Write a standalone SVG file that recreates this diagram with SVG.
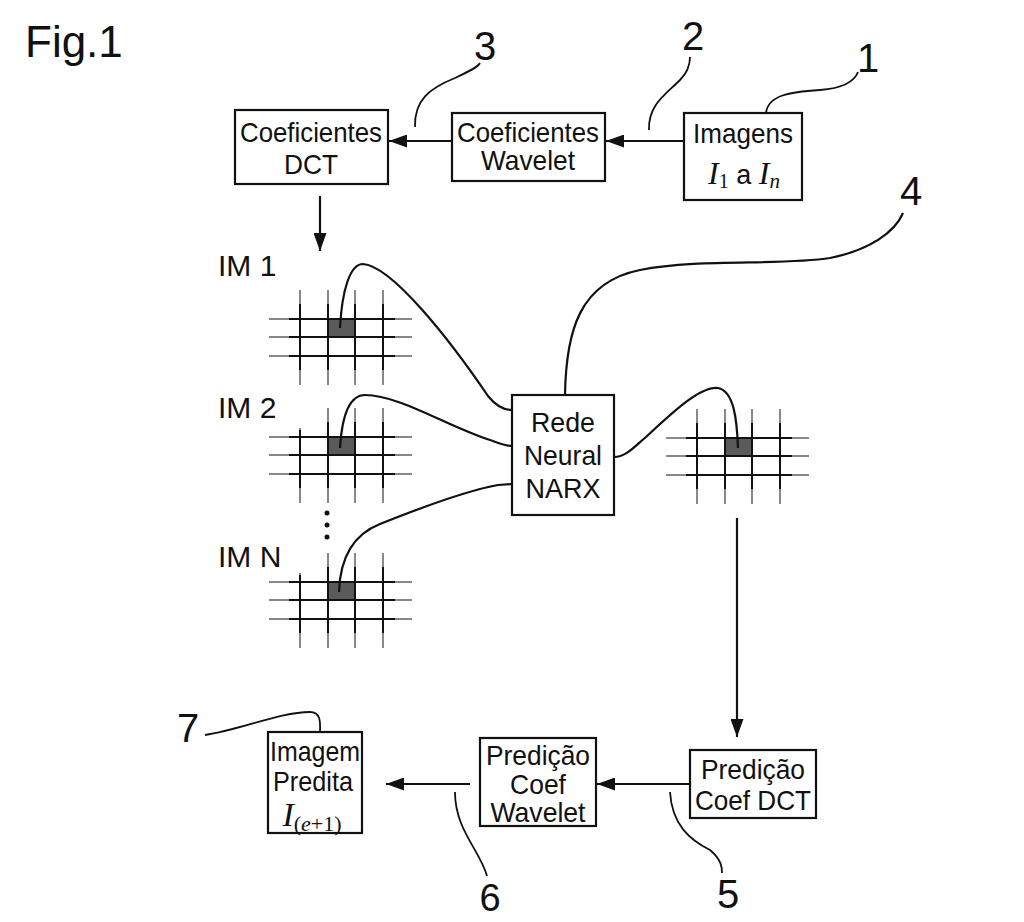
<svg xmlns="http://www.w3.org/2000/svg" width="1024" height="922" viewBox="0 0 1024 922">
<defs>
<style>
text{font-family:"Liberation Sans",Arial,sans-serif;fill:#111}
.box{fill:#fff;stroke:#111;stroke-width:2.2}
.bt{font-size:28px;text-anchor:middle}
.num{font-size:40px;text-anchor:middle}
.im{font-size:30px}
.con{fill:none;stroke:#111;stroke-width:2.2}
.lead{fill:none;stroke:#111;stroke-width:1.8}
.gl{stroke:#888;stroke-width:2}
.gd{stroke:#111;stroke-width:2}
.cell{fill:#5a5a5a}
.m{font-family:"Liberation Serif","Times New Roman",serif;font-style:italic}
.mu{font-family:"Liberation Serif","Times New Roman",serif;font-style:normal}
</style>
<marker id="ah" viewBox="0 0 18 13" refX="18" refY="6.5" markerWidth="18" markerHeight="13" markerUnits="userSpaceOnUse" orient="auto">
<path d="M0,0 L18,6.5 L0,13 z" fill="#111"/>
</marker>
<g id="gridbase">
<line class="gl" x1="0" y1="29" x2="143" y2="29"/>
<line class="gl" x1="0" y1="47" x2="143" y2="47"/>
<line class="gl" x1="0" y1="66" x2="143" y2="66"/>
<line class="gl" x1="59" y1="0" x2="59" y2="95"/>
<line class="gl" x1="86" y1="0" x2="86" y2="95"/>
<line class="gl" x1="114" y1="0" x2="114" y2="95"/>
<line class="gd" x1="20" y1="29" x2="126" y2="29"/>
<line class="gd" x1="20" y1="47" x2="126" y2="47"/>
<line class="gd" x1="20" y1="66" x2="126" y2="66"/>
<line class="gd" x1="59" y1="14" x2="59" y2="80"/>
<line class="gd" x1="86" y1="14" x2="86" y2="80"/>
<line class="gd" x1="114" y1="14" x2="114" y2="80"/>
<line class="gd" x1="31" y1="20" x2="31" y2="80"/>
</g>
<g id="grid">
<use href="#gridbase"/>
<line class="gl" x1="31" y1="0" x2="31" y2="95"/>
<line class="gd" x1="31" y1="14" x2="31" y2="80"/>
</g>
<g id="gridb">
<use href="#gridbase"/>
<line class="gl" x1="31" y1="20" x2="31" y2="95"/>
<line class="gd" x1="31" y1="22" x2="31" y2="80"/>
</g>
</defs>
<rect width="1024" height="922" fill="#fff"/>
<text x="25" y="57" style="font-size:44px">Fig.1</text>

<g id="n-dct">
<rect class="box" x="235" y="110" width="153" height="74"/>
<text class="bt" x="311" y="142" textLength="142" lengthAdjust="spacingAndGlyphs">Coeficientes</text>
<text class="bt" x="311" y="174" textLength="54" lengthAdjust="spacingAndGlyphs">DCT</text>
</g>
<g id="n-wavelet">
<rect class="box" x="452" y="113" width="153" height="68"/>
<text class="bt" x="528" y="142" textLength="142" lengthAdjust="spacingAndGlyphs">Coeficientes</text>
<text class="bt" x="528" y="170" textLength="94" lengthAdjust="spacingAndGlyphs">Wavelet</text>
</g>
<g id="n-imagens">
<rect class="box" x="684" y="113" width="118" height="87"/>
<text class="bt" x="743" y="143" textLength="100" lengthAdjust="spacingAndGlyphs">Imagens</text>
<text class="bt" x="744" y="184"><tspan class="m" font-size="32">I</tspan><tspan class="mu" font-size="20" dy="4">1</tspan><tspan dy="-4" font-size="27"> a </tspan><tspan class="m" font-size="32">I</tspan><tspan class="m" font-size="21" dy="4">n</tspan></text>
</g>

<g id="n-im1">
<text class="im" x="218" y="276">IM 1</text>
<use href="#grid" x="269" y="290"/>
<rect class="cell" x="329" y="320" width="25" height="16"/>
</g>
<g id="n-im2">
<text class="im" x="218" y="418">IM 2</text>
<use href="#gridb" x="269" y="408"/>
<rect class="cell" x="329" y="438" width="25" height="16"/>
</g>
<g id="n-dots">
<circle cx="327" cy="513" r="2.5" fill="#111"/>
<circle cx="327" cy="525" r="2.5" fill="#111"/>
<circle cx="327" cy="537" r="2.5" fill="#111"/>
</g>
<g id="n-imn">
<text class="im" x="218" y="567">IM N</text>
<use href="#gridb" x="269" y="553"/>
<rect class="cell" x="329" y="583" width="25" height="16"/>
</g>

<g id="n-narx">
<rect class="box" x="512" y="395" width="102" height="120"/>
<text class="bt" x="563" y="432" textLength="64" lengthAdjust="spacingAndGlyphs">Rede</text>
<text class="bt" x="563" y="465" textLength="78" lengthAdjust="spacingAndGlyphs">Neural</text>
<text class="bt" x="563" y="498" textLength="75" lengthAdjust="spacingAndGlyphs">NARX</text>
</g>

<g id="n-pred-grid">
<use href="#grid" x="666" y="409"/>
<rect class="cell" x="726" y="439" width="25" height="16"/>
</g>

<g id="n-pred-dct">
<rect class="box" x="690" y="750" width="126" height="68"/>
<text class="bt" x="753" y="779" textLength="104" lengthAdjust="spacingAndGlyphs">Predição</text>
<text class="bt" x="753" y="810" textLength="116" lengthAdjust="spacingAndGlyphs">Coef DCT</text>
</g>
<g id="n-pred-wav">
<rect class="box" x="480" y="738" width="116" height="88"/>
<text class="bt" x="538" y="765" textLength="104" lengthAdjust="spacingAndGlyphs">Predição</text>
<text class="bt" x="538" y="794" textLength="56" lengthAdjust="spacingAndGlyphs">Coef</text>
<text class="bt" x="538" y="822" textLength="95" lengthAdjust="spacingAndGlyphs">Wavelet</text>
</g>
<g id="n-imagem">
<rect class="box" x="268" y="732" width="94" height="101"/>
<text class="bt" x="315" y="761" textLength="90" lengthAdjust="spacingAndGlyphs">Imagem</text>
<text class="bt" x="313" y="791" textLength="80" lengthAdjust="spacingAndGlyphs">Predita</text>
<text class="bt" x="312" y="826"><tspan class="m" font-size="34">I</tspan><tspan class="mu" font-size="22" dy="5">(</tspan><tspan class="m" font-size="22">e</tspan><tspan class="mu" font-size="22">+1)</tspan></text>
</g>

<g id="labels">
<text class="num" x="485" y="60">3</text>
<text class="num" x="693" y="50">2</text>
<text class="num" x="868" y="72">1</text>
<text class="num" x="911" y="205">4</text>
<text class="num" x="188" y="742">7</text>
<text class="num" x="490" y="911" style="font-size:38px">6</text>
<text class="num" x="728" y="908">5</text>
</g>

<g id="connectors">
<line class="con" x1="684" y1="141" x2="606" y2="141" marker-end="url(#ah)"/>
<line class="con" x1="452" y1="141" x2="389" y2="141" marker-end="url(#ah)"/>
<line class="con" x1="320" y1="196" x2="320" y2="251" marker-end="url(#ah)"/>
<path class="con" d="M340,328 C342,290 350,264 363,264 C392,266 450,340 488,396 C496,406 504,410 512,410"/>
<path class="con" d="M340,448 C342,415 350,395 365,395 C400,395 450,428 493,441 C501,444 506,446 512,446"/>
<path class="con" d="M339,592 C340,560 352,535 380,524 C420,508 470,490 498,485 L512,484"/>
<path class="con" d="M565,395 C566,330 580,282 640,270 C700,258 780,266 830,258 C870,250 895,232 903,213"/>
<path class="con" d="M614,457 C626,457 634,447 646,437 C672,413 700,386 718,388 C734,391 737,420 738,448"/>
<line class="con" x1="737" y1="518" x2="737" y2="737" marker-end="url(#ah)"/>
<line class="con" x1="690" y1="784" x2="597" y2="784" marker-end="url(#ah)"/>
<line class="con" x1="470" y1="784" x2="386" y2="784" marker-end="url(#ah)"/>
<path class="lead" d="M766,113 C768,95 790,92 820,90 C845,88 855,80 858,72"/>
<path class="lead" d="M649,130 C648,105 665,95 680,80 C688,72 690,65 690,57"/>
<path class="lead" d="M415,127 C414,100 430,88 455,78 C470,71 478,67 480,63"/>
<path class="lead" d="M205,735 C240,730 280,712 310,712 C322,712 320,725 320,733"/>
<path class="lead" d="M455,792 C455,830 480,850 487,876"/>
<path class="lead" d="M670,792 C672,825 690,840 710,850 C722,860 722,868 722,873"/>
</g>
</svg>
